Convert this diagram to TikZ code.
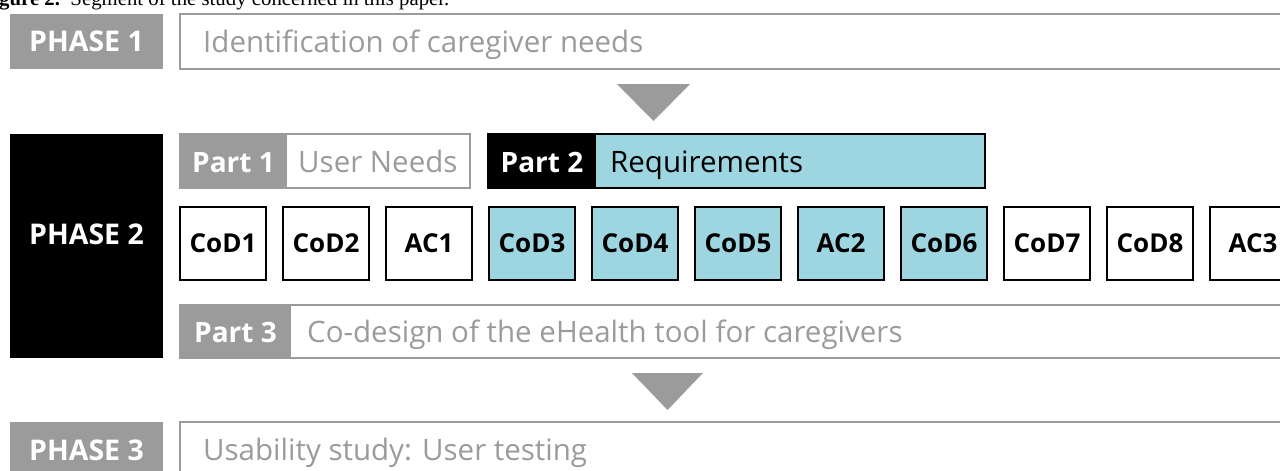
\documentclass[tikz,border=0pt]{standalone}
\usepackage{fontspec}
\setmainfont{Open Sans}
\newfontfamily\capfont{Liberation Serif}
\definecolor{pgray}{HTML}{9B9B9B}
\definecolor{pblue}{HTML}{9DD5E1}
\begin{document}
\begin{tikzpicture}[x=1pt,y=-1pt,
  regtxt/.style={font=\fontsize{29.5}{32}\selectfont, inner sep=0, anchor=base west},
  boldtxt/.style={font=\fontsize{28}{30}\selectfont\bfseries, inner sep=0, anchor=base},
  phasetxt/.style={font=\fontsize{28.5}{30}\selectfont\bfseries, inner sep=0, anchor=base, text=white},
  codtxt/.style={font=\fontsize{26}{28}\selectfont\bfseries, inner sep=0, anchor=base},
  blk/.style={anchor=north west, inner sep=0, outer sep=0},
  outlinebox/.style={blk, draw=pgray, line width=2pt, fill=white},
  codbox/.style={blk, draw=black, line width=2pt, minimum width=86, minimum height=73},
  arrowtri/.style={fill=pgray}
]
\useasboundingbox (0,0) rectangle (1280,471);
\clip (0,0) rectangle (1280,471);
\fill[white] (0,0) rectangle (1280,471);

% caption (cut off at the top)
\node[font=\capfont\fontsize{20.8}{22}\selectfont, inner sep=0, anchor=base west] (cap) at (-1,5.5) {\textbf{gure 2.}\ \ Segment of the study concerned in this paper.};

% PHASE 1
\node[blk, fill=pgray, minimum width=153, minimum height=55] (ph1) at (10,14) {};
\node[phasetxt] (ph1t) at (86.5,51.5) {PHASE 1};
\node[outlinebox, minimum width=1140, minimum height=55] (ph1b) at (180,14) {};
\node[regtxt, text=pgray] (ph1bt) at (203,52) {Identification of caregiver needs};

\fill[arrowtri] (617,84) -- (690,84) -- (653.5,121) -- cycle;

% PHASE 2
\node[blk, fill=black, minimum width=153, minimum height=224] (ph2) at (10,134) {};
\node[phasetxt] (ph2t) at (86.5,244) {PHASE 2};

% Part 1
\node[outlinebox, minimum width=290, minimum height=54] (pt1) at (180,134) {};
\node[blk, fill=pgray, minimum width=107, minimum height=54] (pt1l) at (180,134) {};
\node[boldtxt, text=white] (pt1t) at (233.5,172) {Part 1};
\node[regtxt, text=pgray] (pt1r) at (298,172) {User Needs};

% Part 2
\node[blk, draw=black, line width=2pt, fill=pblue, minimum width=497, minimum height=54] (pt2) at (488,134) {};
\node[blk, fill=black, minimum width=108, minimum height=54] (pt2l) at (488,134) {};
\node[boldtxt, text=white] (pt2t) at (542,172) {Part 2};
\node[regtxt, text=black] (pt2r) at (610,172) {Requirements};

% sessions
\foreach \i/\lab/\col in {0/CoD1/white,1/CoD2/white,2/AC1/white,3/CoD3/pblue,4/CoD4/pblue,5/CoD5/pblue,6/AC2/pblue,7/CoD6/pblue,8/CoD7/white,9/CoD8/white,10/AC3/white}{
  \node[codbox, fill=\col] (s\i) at ({180+103*\i},207) {};
  \node[codtxt] (s\i t) at ({223+103*\i},252) {\lab};
}

% Part 3
\node[outlinebox, minimum width=1140, minimum height=53] (pt3) at (180,305) {};
\node[blk, fill=pgray, minimum width=111, minimum height=53] (pt3l) at (180,305) {};
\node[boldtxt, text=white] (pt3t) at (235.5,342) {Part 3};
\node[regtxt, text=pgray] (pt3r) at (307,342) {Co-design of the eHealth tool for caregivers};

\fill[arrowtri] (632,373) -- (703,373) -- (667.5,410) -- cycle;

% PHASE 3
\node[blk, fill=pgray, minimum width=153, minimum height=60] (ph3) at (10,422) {};
\node[phasetxt] (ph3t) at (86.5,460) {PHASE 3};
\node[outlinebox, minimum width=1140, minimum height=60] (ph3b) at (180,422) {};
\node[regtxt, text=pgray] (ph3bt) at (203,460) {Usability study: User testing};
\end{tikzpicture}
\end{document}
